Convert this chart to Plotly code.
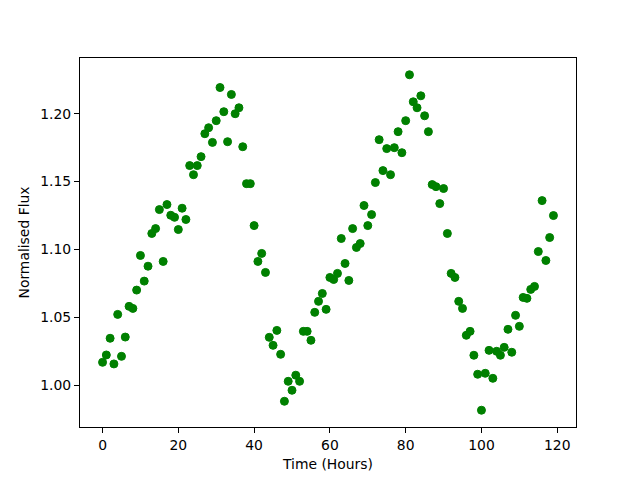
import plotly.graph_objects as go

time_hours = list(range(120))
flux = [
    1.0169, 1.0223, 1.0346, 1.0157, 1.0522, 1.0213, 1.0355, 1.0581, 1.0566, 1.0701,
    1.0956, 1.0767, 1.0877, 1.1118, 1.1154, 1.1294, 1.0912, 1.1331, 1.1252, 1.1237,
    1.1147, 1.1304, 1.1221, 1.1618, 1.1551, 1.1618, 1.1684, 1.1853, 1.1897, 1.1789,
    1.1949, 1.2193, 1.2015, 1.1794, 1.2142, 1.2000, 1.2044, 1.1757, 1.1485, 1.1485,
    1.1176, 1.0912, 1.0971, 1.0831, 1.0353, 1.0294, 1.0404, 1.0228, 0.9882, 1.0029,
    0.9963, 1.0074, 1.0029, 1.0397, 1.0397, 1.0331, 1.0537, 1.0618, 1.0676, 1.0559,
    1.0794, 1.0779, 1.0824, 1.1081, 1.0897, 1.0772, 1.1154, 1.1015, 1.1044, 1.1324,
    1.1176, 1.1257, 1.1493, 1.1809, 1.1581, 1.1743, 1.1551, 1.1750, 1.1868, 1.1713,
    1.1949, 1.2287, 1.2088, 1.2044, 1.2132, 1.1985, 1.1868, 1.1478, 1.1463, 1.1338,
    1.1449, 1.1118, 1.0824, 1.0794, 1.0618, 1.0566, 1.0368, 1.0397, 1.0221, 1.0081,
    0.9816, 1.0088, 1.0257, 1.0051, 1.0250, 1.0221, 1.0279, 1.0412, 1.0243, 1.0515,
    1.0434, 1.0647, 1.0640, 1.0706, 1.0728, 1.0985, 1.1360, 1.0919, 1.1088, 1.1250,
]
x_ticks = [0, 20, 40, 60, 80, 100, 120]
y_ticks = [1.00, 1.05, 1.10, 1.15, 1.20]
y_tick_text = ["1.00", "1.05", "1.10", "1.15", "1.20"]

xmin, xmax = min(time_hours), max(time_hours)
ymin, ymax = min(flux), max(flux)
xpad = 0.05 * (xmax - xmin)
ypad = 0.05 * (ymax - ymin)

fig = go.Figure(go.Scatter(
    x=time_hours, y=flux, mode="markers",
    marker=dict(color="#008000", size=8, line=dict(color="#008000", width=1)),
))

font = dict(family="DejaVu Sans", size=13.9, color="black")
axis_common = dict(
    showgrid=False, zeroline=False, showline=True, linecolor="black", linewidth=1,
    mirror=True, ticks="outside", ticklen=5, tickcolor="black", tickwidth=1,
    tickfont=font,
)
# page body has an 8px default margin, so the figure is 8px smaller and margins shifted
fig.update_layout(
    width=632, height=472,
    margin=dict(l=72, r=64, t=50, b=53),
    paper_bgcolor="white", plot_bgcolor="white",
    showlegend=False, font=font,
    xaxis=dict(range=[xmin - xpad, xmax + xpad], tickvals=x_ticks,
               title=dict(text="Time (Hours)", font=font, standoff=7), **axis_common),
    yaxis=dict(range=[ymin - ypad, ymax + ypad], tickvals=y_ticks, ticktext=y_tick_text,
               title=dict(text="Normalised Flux", font=font, standoff=7), **axis_common),
)
fig.write_html("out.html")
